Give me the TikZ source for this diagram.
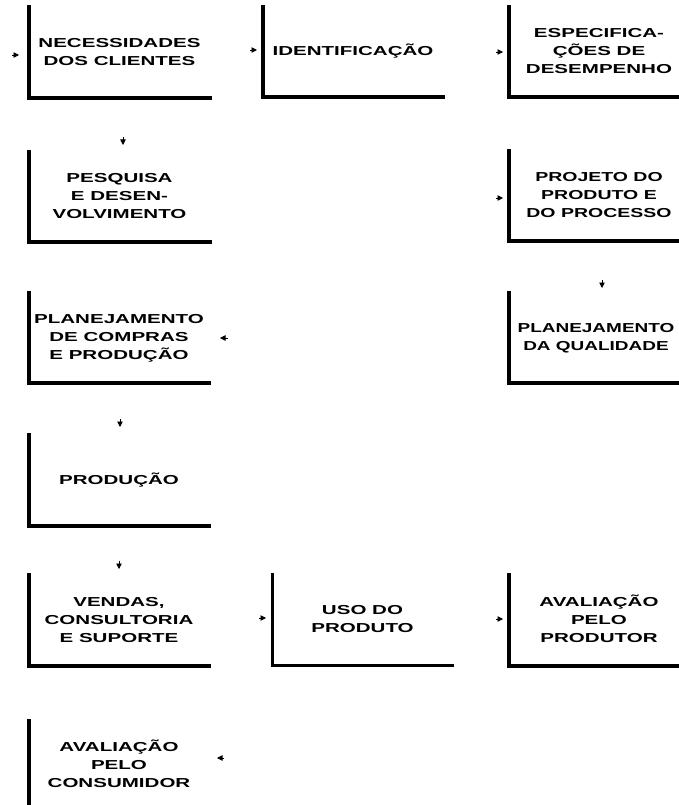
\documentclass[tikz,border=0pt]{standalone}
\usepackage{fontspec}
\usepackage{graphicx}
\setmainfont{Liberation Sans}
\usetikzlibrary{arrows.meta}
\newcommand{\lbl}[2][1.58]{\scalebox{#1}[1]{\begin{tabular}{@{}c@{}}#2\end{tabular}}}
\begin{document}
\begin{tikzpicture}[x=1pt,y=-1pt,
  boxn/.style={minimum width=180pt,minimum height=90pt,inner sep=0pt,
    font=\fontsize{13}{18}\selectfont\bfseries},
  lwall/.style={line width=4pt,line cap=rect},
  thinwall/.style={line width=3pt,line cap=rect},
  tip/.style={line width=0.8pt,-{Triangle[length=5.5pt,width=5.5pt]}}]
\useasboundingbox[fill=white] (0,0) rectangle (678,805);
% boxes
\node[boxn] (b1) at (119.5,52.5) {\lbl{NECESSIDADES\\DOS CLIENTES}};
\node[boxn] (b2) at (353,52) {\lbl{IDENTIFICAÇÃO}};
\node[boxn] (b3) at (599,52) {\lbl{ESPECIFICA-\\ÇÕES DE\\DESEMPENHO}};
\node[boxn] (b4) at (119.5,197) {\lbl{PESQUISA\\E DESEN-\\VOLVIMENTO}};
\node[boxn] (b5) at (599,196) {\lbl[1.5]{PROJETO DO\\PRODUTO E\\DO PROCESSO}};
\node[boxn] (b6) at (599,338) {\hspace*{-6pt}\lbl[1.46]{PLANEJAMENTO\\DA QUALIDADE}};
\node[boxn] (b7) at (119,338) {\lbl{PLANEJAMENTO\\DE COMPRAS\\E PRODUÇÃO}};
\node[boxn] (b8) at (119,480.5) {\lbl{PRODUÇÃO}};
\node[boxn] (b9) at (119,620.5) {\lbl{VENDAS,\\CONSULTORIA\\E SUPORTE}};
\node[boxn] (b10) at (362.5,620) {\lbl{USO DO\\PRODUTO}};
\node[boxn] (b11) at (599,620.5) {\lbl{AVALIAÇÃO\\PELO\\PRODUTOR}};
\node[boxn] (b12) at (119,766) {\raisebox{5pt}{\lbl{AVALIAÇÃO\\PELO\\CONSUMIDOR}}};
% L-shaped walls
\foreach \b in {b1,b2,b3,b4,b5,b6,b7,b8,b9,b11,b12}
  \draw[lwall] (\b.north west) |- (\b.south east);
\draw[thinwall] (b10.north west) |- (b10.south east);
% arrow tips
\coordinate (s1) at (12,55);   \coordinate (t1) at (19,55);
\coordinate (s2) at (250,50);  \coordinate (t2) at (257,50);
\coordinate (s3) at (496,52);  \coordinate (t3) at (503,52);
\coordinate (s4) at (123,137); \coordinate (t4) at (123,145);
\coordinate (s5) at (496,198); \coordinate (t5) at (503,198);
\coordinate (s6) at (602,280); \coordinate (t6) at (602,288);
\coordinate (s7) at (228,338); \coordinate (t7) at (220,338);
\coordinate (s8) at (120,419); \coordinate (t8) at (120,427);
\coordinate (s9) at (119,561); \coordinate (t9) at (119,569);
\coordinate (s10) at (259,618); \coordinate (t10) at (266,618);
\coordinate (s11) at (496,619); \coordinate (t11) at (503,619);
\coordinate (s12) at (224,758); \coordinate (t12) at (217,758);
\foreach \i in {1,...,12}
  \draw[tip] (s\i) -- (t\i);
\end{tikzpicture}
\end{document}
